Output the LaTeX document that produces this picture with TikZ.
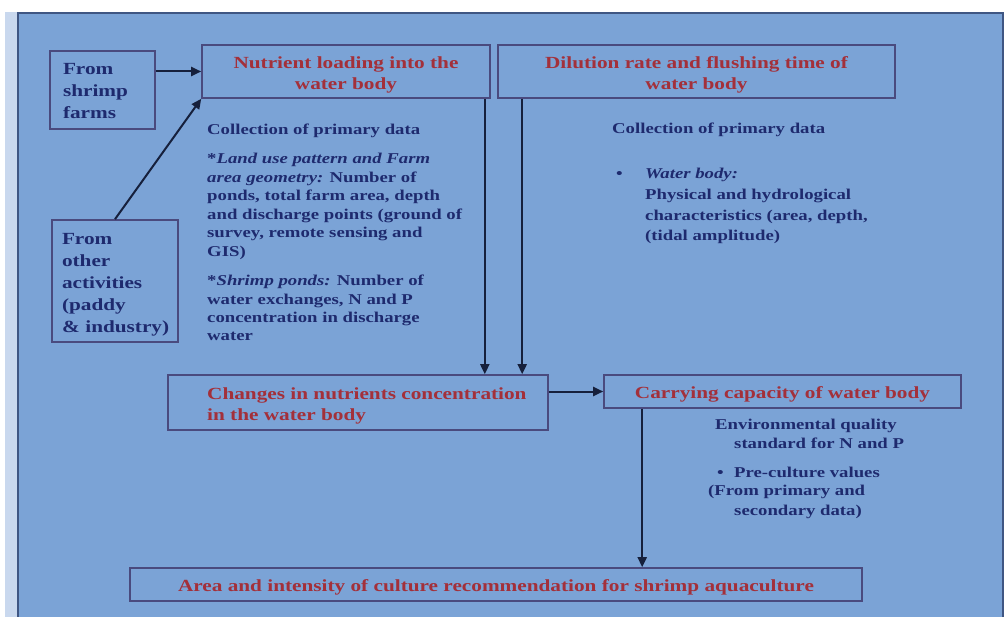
\documentclass[tikz,border=0pt]{standalone}
\usepackage{fontspec}
\setmainfont{Liberation Serif}[FakeStretch=1.25]
\usetikzlibrary{arrows.meta}
\definecolor{bg}{HTML}{7BA3D6}
\definecolor{strip}{HTML}{C9D8EE}
\definecolor{panel}{HTML}{3F5683}
\definecolor{ttl}{HTML}{A3303A}
\definecolor{txt}{HTML}{1E2A6E}
\definecolor{edge}{HTML}{4A4A7E}
\definecolor{arr}{HTML}{16203C}
\newcommand{\topstrut}{\rule{0pt}{18pt}}
\begin{document}
\begin{tikzpicture}[x=1pt,y=-1pt,
  box/.style={draw=edge, line width=1.6pt, inner sep=0pt},
  ttl/.style={text=ttl, font=\bfseries\fontsize{17}{21}\selectfont, align=center},
  side/.style={text=txt, font=\bfseries\fontsize{17}{22}\selectfont, align=left},
  body/.style={text=txt, font=\bfseries\fontsize{15}{18.5}\selectfont, align=left, anchor=north west, inner sep=0pt},
  line/.style={text=txt, font=\bfseries\fontsize{15}{18.5}\selectfont, anchor=base west, inner sep=0pt},
  link/.style={draw=arr, line width=2pt, -{Triangle[length=10pt,width=9pt]}}]
\useasboundingbox (0,0) rectangle (1008,617);
\fill[white] (0,0) rectangle (1008,617);
\fill[strip] (5,12) rectangle (17,617);
\draw[fill=bg, draw=panel, line width=2.2pt] (18,13) rectangle (1003,640);

% boxes
\node[box, side, text width=79pt, inner xsep=13pt, minimum height=78pt] (shrimp) at (102.5,90) {\rule{0pt}{14pt}From\\shrimp\\farms};
\node[box, side, text width=114pt, inner xsep=6pt, minimum height=122pt] (other) at (115,281) {\rule{0pt}{19pt}\hspace*{4pt}From\\\hspace*{4pt}other\\\hspace*{4pt}activities\\\hspace*{4pt}(paddy\\\hspace*{4pt}\& industry)};
\node[box, ttl, minimum width=288pt, minimum height=53pt] (nut) at (346,71.5) {\topstrut Nutrient loading into the\\water body};
\node[box, ttl, minimum width=397pt, minimum height=53pt] (dil) at (696.5,71.5) {\topstrut Dilution rate and flushing time of\\water body};
\node[box, minimum width=380pt, minimum height=55pt] (chg) at (358,402.5) {};
\node[ttl, align=left, anchor=west, inner sep=0pt] (chgT) at (207,406) {Changes in nutrients concentration\\in the water body};
\node[box, ttl, minimum width=357pt, minimum height=33pt] (cap) at (782.5,391.5) {\topstrut Carrying capacity of water body};
\node[box, ttl, minimum width=732pt, minimum height=33pt] (area) at (496,584.5) {\topstrut Area and intensity of culture recommendation for shrimp aquaculture};

% left text
\node[body] (colA) at (207,124) {Collection of primary data};
\node[body] (land) at (207,153) {*\textit{Land use pattern and Farm}\\\textit{area geometry:} Number of\\ponds, total farm area, depth\\and discharge points (ground of\\survey, remote sensing and\\GIS)};
\node[body, font=\bfseries\fontsize{15}{18.3}\selectfont] (pond) at (207,275) {*\textit{Shrimp ponds:} Number of\\water exchanges, N and P\\concentration in discharge\\water};

% right text
\node[body] (colB) at (612,123) {Collection of primary data};
\node[line] (bul1) at (616,179) {•};
\node[body, font=\bfseries\fontsize{15}{20.7}\selectfont] (wb) at (645,168) {\textit{Water body:}\\Physical and hydrological\\characteristics (area, depth,\\(tidal amplitude)};

% carrying capacity text
\node[line] (env1) at (715,429) {Environmental quality};
\node[line] (env2) at (734,448) {standard for N and P};
\node[line] (bul2) at (717,477) {•};
\node[line] (pre) at (734,477) {Pre-culture values};
\node[line] (src1) at (708,495) {(From primary and};
\node[line] (src2) at (734,515) {secondary data)};

% connectors
\draw[link] (shrimp.east |- nut.west) -- (nut.west);
\draw[link] (other.north) -- (nut.south west);
\coordinate (nA) at ([xshift=-6pt]nut.south east);
\draw[link] (nA) -- (nA |- chg.north);
\coordinate (dA) at ([xshift=25pt]dil.south west);
\draw[link] (dA) -- (dA |- chg.north);
\draw[link] (chg.east |- cap.west) -- (cap.west);
\coordinate (cA) at ([xshift=39pt]cap.south west);
\draw[link] (cA) -- (cA |- area.north);
\end{tikzpicture}
\end{document}
